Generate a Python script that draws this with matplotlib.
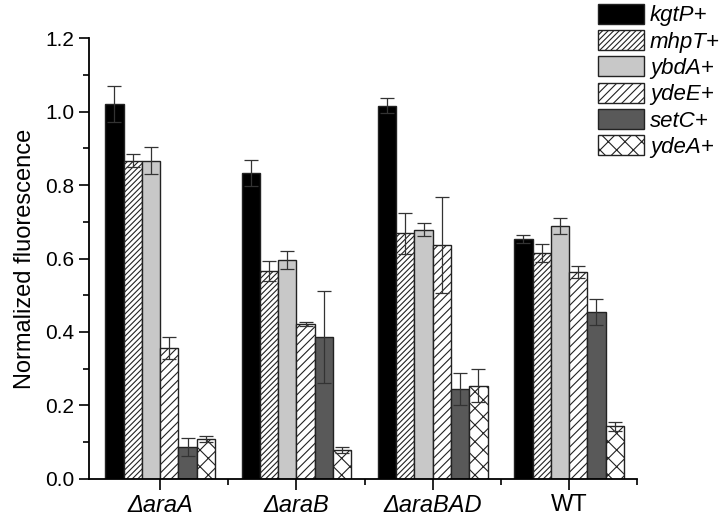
import numpy as np
import matplotlib.pyplot as plt
from matplotlib.ticker import MultipleLocator, FixedLocator

plt.rcParams['font.family'] = ['Liberation Sans', 'DejaVu Sans']
plt.rcParams['hatch.linewidth'] = 0.8

# dados
strains = ['\u0394araA', '\u0394araB', '\u0394araBAD', 'WT']
genes = ['kgtP+', 'mhpT+', 'ybdA+', 'ydeE+', 'setC+', 'ydeA+']

kgtP = [1.022, 0.833, 1.016, 0.654]
mhpT = [0.866, 0.565, 0.669, 0.615]
ybdA = [0.866, 0.596, 0.678, 0.689]
ydeE = [0.356, 0.421, 0.637, 0.563]
setC = [0.086, 0.386, 0.244, 0.454]
ydeA = [0.109, 0.078, 0.254, 0.143]

kgtP_err = [0.049, 0.035, 0.020, 0.011]
mhpT_err = [0.018, 0.027, 0.056, 0.024]
ybdA_err = [0.037, 0.025, 0.018, 0.022]
ydeE_err = [0.030, 0.006, 0.131, 0.016]
setC_err = [0.024, 0.125, 0.044, 0.035]
ydeA_err = [0.009, 0.008, 0.045, 0.012]

series = [kgtP, mhpT, ybdA, ydeE, setC, ydeA]
errors = [kgtP_err, mhpT_err, ybdA_err, ydeE_err, setC_err, ydeA_err]
faces = ['black', 'white', '#c8c8c8', 'white', '#595959', 'white']
hatches = [None, '//////', None, '////', None, 'xx']

fig = plt.figure(figsize=(7.2, 5.16), dpi=100)
ax = fig.add_axes([0.124, 0.072, 0.761, 0.854])

x = np.arange(1, len(strains) + 1)
w = 0.134
for i, (vals, errs) in enumerate(zip(series, errors)):
    pos = x + (i - 2.5) * w
    ax.bar(pos, vals, width=w, color=faces[i], edgecolor='#222222', linewidth=1.0,
           hatch=hatches[i], label=genes[i], zorder=2)
    ax.errorbar(pos, vals, yerr=errs, fmt='none', ecolor='#333333', elinewidth=0.9,
                capsize=5, capthick=0.9, zorder=3)

ax.set_xlim(0.48, 4.5)
ax.set_ylim(0, 1.2)
ax.yaxis.set_major_locator(MultipleLocator(0.2))
ax.yaxis.set_minor_locator(MultipleLocator(0.1))
ax.xaxis.set_major_locator(FixedLocator(x))
ax.xaxis.set_minor_locator(FixedLocator([1.5, 2.5, 3.5, 4.5]))
ax.set_xticklabels(strains)
for lab, s in zip(ax.get_xticklabels(), strains):
    if s != 'WT':
        lab.set_style('italic')

ax.yaxis.set_major_formatter(plt.FuncFormatter(lambda v, p: f'{v:.1f}'))
ax.tick_params(axis='y', which='major', direction='out', length=7, width=1.2, labelsize=15, pad=4)
ax.tick_params(axis='x', which='major', direction='out', length=8, width=1.2, labelsize=17, pad=3)
ax.tick_params(axis='both', which='minor', direction='out', length=4, width=1.2)
ax.spines['top'].set_visible(False)
ax.spines['right'].set_visible(False)
ax.spines['left'].set_linewidth(1.3)
ax.spines['bottom'].set_linewidth(1.3)
ax.set_ylabel('Normalized fluorescence', fontsize=17, labelpad=6)

leg = ax.legend(loc='upper left', bbox_to_anchor=(0.928, 1.078), frameon=False,
                fontsize=16, handlelength=2.1, handleheight=1.0, labelspacing=0.17,
                handletextpad=0.25, borderaxespad=0, borderpad=0)
for t in leg.get_texts():
    t.set_style('italic')

plt.savefig('out.png', dpi=100)
plt.close()
